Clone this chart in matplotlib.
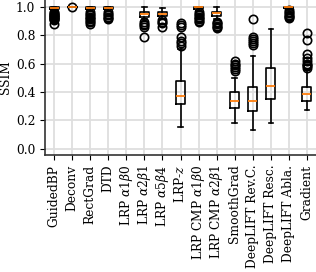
import numpy as np
import matplotlib
matplotlib.use("Agg")
import matplotlib.pyplot as plt

plt.rcParams['font.family'] = 'DejaVu Serif'
plt.rcParams['mathtext.fontset'] = 'dejavuserif'
plt.rcParams['font.size'] = 8.8

methods = ['GuidedBP', 'Deconv', 'RectGrad', 'DTD', r'LRP $\alpha1\beta0$',
           r'LRP $\alpha2\beta1$', r'LRP $\alpha5\beta4$', 'LRP-$z$',
           r'LRP CMP $\alpha1\beta0$', r'LRP CMP $\alpha2\beta1$', 'SmoothGrad',
           'DeepLIFT Rev.C.', 'DeepLIFT Resc.', 'DeepLIFT Abla.', 'Gradient']

# box statistics (nan = no data)
nan = np.nan
medians = [0.993, 1.0, 0.993, 0.993, nan, 0.946, 0.95, 0.371, 0.995, 0.953,
           0.334, 0.34, 0.442, 0.998, 0.388]
q1 = [0.985, 1.0, 0.985, 0.985, nan, 0.93, 0.935, 0.317, 0.985, 0.936,
      0.286, 0.265, 0.348, 0.99, 0.34]
q3 = [0.998, 1.0, 0.998, 0.998, nan, 0.965, 0.965, 0.478, 0.999, 0.965,
      0.40, 0.437, 0.572, 1.0, 0.435]
whis_lo = [0.97, 1.0, 0.97, 0.97, nan, 0.91, 0.915, 0.157, 0.97, 0.915,
           0.185, 0.133, 0.185, 0.975, 0.27]
whis_hi = [1.0, 1.0, 1.0, 1.0, nan, 1.0, 0.99, 0.70, 1.0, 0.995,
           0.50, 0.652, 0.84, 1.0, 0.557]
fliers = [
    [0.96, 0.955, 0.95, 0.945, 0.94, 0.935, 0.93, 0.925, 0.92, 0.915, 0.91, 0.905, 0.875],
    [0.998],
    [0.96, 0.95, 0.94, 0.93, 0.92, 0.91, 0.90, 0.89, 0.88],
    [0.96, 0.95, 0.94, 0.93, 0.92, 0.91],
    [],
    [0.89, 0.878, 0.868, 0.857, 0.788],
    [0.906, 0.895, 0.884, 0.857],
    [0.887, 0.87, 0.854, 0.784, 0.76, 0.746, 0.722],
    [0.96, 0.95, 0.94, 0.93, 0.92, 0.91, 0.90, 0.89],
    [0.89, 0.887, 0.875, 0.865, 0.855, 0.847],
    [0.62, 0.60, 0.59, 0.575, 0.56, 0.55],
    [0.913, 0.79, 0.775, 0.76, 0.745, 0.73],
    [],
    [0.975, 0.965, 0.955, 0.945, 0.935, 0.925, 0.918],
    [0.816, 0.765, 0.666, 0.64, 0.62, 0.60, 0.59, 0.58, 0.567],
]

stats = []
for i in range(len(methods)):
    stats.append({'med': medians[i], 'q1': q1[i], 'q3': q3[i],
                  'whislo': whis_lo[i], 'whishi': whis_hi[i],
                  'fliers': np.array(fliers[i])})

fig = plt.figure(figsize=(3.16, 2.72), dpi=100)
ax = fig.add_axes([45 / 316, 117 / 272, 271 / 316, 155 / 272])

ax.grid(True, color='#dedede', linewidth=1.3, zorder=0)
ax.set_axisbelow(True)
ax.bxp(stats, positions=range(1, len(methods) + 1), widths=0.5,
       boxprops=dict(color='black', linewidth=1.2),
       whiskerprops=dict(color='black', linewidth=1.2),
       capprops=dict(color='black', linewidth=1.2),
       medianprops=dict(color='#ff7f0e', linewidth=1.3),
       flierprops=dict(marker='o', markerfacecolor='none',
                       markeredgecolor='black', markersize=6,
                       markeredgewidth=1.2))

ax.set_xlim(0.5, 15.5)
ax.set_ylim(-0.043, 1.047)
ax.set_yticks(np.arange(0, 1.01, 0.2))
ax.set_xticks(range(1, len(methods) + 1))
ax.set_xticklabels(methods, rotation=90)
ax.set_ylabel('SSIM', labelpad=3)
ax.spines['top'].set_visible(False)
ax.spines['right'].set_visible(False)
for s in ['left', 'bottom']:
    ax.spines[s].set_color('#333333')
    ax.spines[s].set_linewidth(1.2)

fig.savefig('out.png', dpi=100)
